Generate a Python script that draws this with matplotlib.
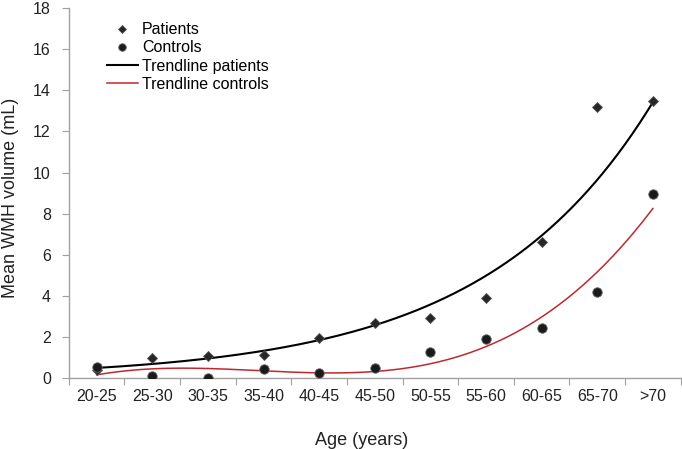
import numpy as np
import matplotlib
matplotlib.use("Agg")
import matplotlib.pyplot as plt

plt.rcParams['font.family'] = ['Liberation Sans', 'DejaVu Sans']

age_groups = ["20-25", "25-30", "30-35", "35-40", "40-45", "45-50",
              "50-55", "55-60", "60-65", "65-70", ">70"]
patients = [0.4, 1.0, 1.05, 1.1, 1.95, 2.7, 2.9, 3.9, 6.6, 13.2, 13.5]
controls = [0.55, 0.1, 0.0, 0.45, 0.25, 0.5, 1.25, 1.9, 2.45, 4.2, 8.95]

x = np.arange(1, len(age_groups) + 1)
xs = np.linspace(1, len(age_groups), 300)

# trendlines like the spreadsheet ones: exponential for patients, cubic for controls
b, ln_a = np.polyfit(x, np.log(patients), 1)
trend_p = np.exp(ln_a) * np.exp(b * xs)
trend_c = np.polyval(np.polyfit(x, controls, 3), xs)

fig = plt.figure(figsize=(6.82, 4.49), dpi=100)
ax = fig.add_axes([0.101, 0.158, 0.897, 0.824])

ax.plot(x, patients, 'D', color='#262626', markersize=5.5, markeredgecolor='#555555',
        markeredgewidth=0.6, label='Patients', zorder=3)
ax.plot(x, controls, 'o', color='#1a1a1a', markersize=6.8, markeredgecolor='#666666',
        markeredgewidth=0.6, label='Controls', zorder=3)
ax.plot(xs, trend_p, color='black', lw=1.5, label='Trendline patients')
ax.plot(xs, trend_c, color='#c0282d', lw=1.1, label='Trendline controls')

ax.set_xlim(0.5, len(age_groups) + 0.5)
ax.set_ylim(0, 18)
ax.set_yticks(np.arange(0, 19, 2))
ax.set_xticks(np.arange(0.5, len(age_groups) + 1, 1))
ax.set_xticklabels([])
ax.set_xticks(x, minor=True)
ax.set_xticklabels(age_groups, minor=True)
ax.tick_params(axis='x', which='minor', length=0, pad=8, labelsize=11.5, colors='#222222')
ax.tick_params(axis='x', which='major', length=5, color='#a0a0a0', direction='out')
ax.tick_params(axis='y', length=5, pad=8, color='#a0a0a0', labelsize=11.5, colors='#222222')

for s in ['top', 'right']:
    ax.spines[s].set_visible(False)
for s in ['left', 'bottom']:
    ax.spines[s].set_color('#a0a0a0')
    ax.spines[s].set_linewidth(1.0)

ax.set_xlabel("Age (years)", fontsize=13, color='#222222')
ax.xaxis.set_label_coords(0.478, -0.145)
ax.set_ylabel("Mean WMH volume (mL)", fontsize=13, color='#222222')
ax.yaxis.set_label_coords(-0.081, 0.487)

leg = ax.legend(loc='upper left', bbox_to_anchor=(0.062, 0.962), frameon=False,
                fontsize=11.5, handlelength=1.95, handletextpad=0.25,
                labelspacing=0.2, borderaxespad=0, borderpad=0, markerscale=0.8)

fig.savefig("out.png", dpi=100)
